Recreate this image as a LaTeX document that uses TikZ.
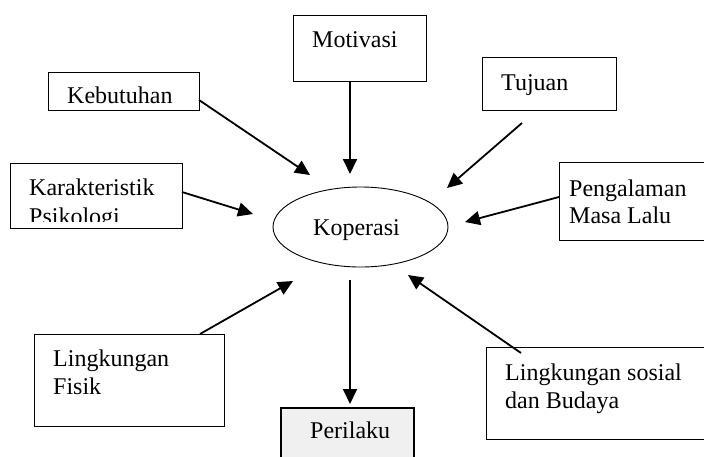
\documentclass[tikz,border=0pt]{standalone}
\usepackage{fontspec}
\setmainfont{Liberation Serif}
\usetikzlibrary{arrows.meta,shapes.geometric}
\begin{document}
\begin{tikzpicture}[x=1pt,y=-1pt,
  box/.style={draw,line width=0.9pt,inner sep=0pt},
  lbl/.style={anchor=base west,inner sep=0pt,font=\fontsize{24}{28}\selectfont},
  arr/.style={line width=1.8pt,-{Triangle[length=15pt,width=14pt]}}]
\clip (0,0) rectangle (704,456);
\fill[white] (0,0) rectangle (704,456);
% boxes
\node[box,minimum width=133pt,minimum height=66pt] (mot) at (359.5,48) {};
\node[box,minimum width=151pt,minimum height=38pt] (keb) at (123.5,91) {};
\node[box,minimum width=172pt,minimum height=65pt] (kar) at (96,195.5) {};
\node[box,minimum width=134pt,minimum height=53pt] (tuj) at (549,83.5) {};
\node[box,minimum width=160pt,minimum height=78pt] (pen) at (639,201) {};
\node[box,minimum width=190pt,minimum height=92pt] (fis) at (129,380) {};
\node[box,line width=1.1pt,fill=black!6,minimum width=133pt,minimum height=60pt] (per) at (347.5,438) {};
\node[box,minimum width=230pt,minimum height=92pt] (sos) at (601,393.5) {};
\node[draw,line width=0.9pt,ellipse,minimum width=175pt,minimum height=80pt,inner sep=0pt] (kop) at (360.5,227) {};
% texts
\node[lbl] (tmot) at (312,47) {Motivasi};
\node[lbl] (tkeb) at (67,103) {Kebutuhan};
\begin{scope}
\clip (11,164) rectangle (181,221);
\node[lbl] (tkar1) at (29,195) {Karakteristik};
\node[lbl] (tkar2) at (29,224) {Psikologi};
\end{scope}
\node[lbl] (ttuj) at (501,90) {Tujuan};
\node[lbl] (tpen1) at (569,196) {Pengalaman};
\node[lbl] (tpen2) at (569,223) {Masa Lalu};
\node[lbl] (tkop) at (313,235) {Koperasi};
\node[lbl] (tfis1) at (53,366) {Lingkungan};
\node[lbl] (tfis2) at (53,394) {Fisik};
\node[lbl] (tper) at (310,438) {Perilaku};
\node[lbl] (tsos1) at (505,380) {Lingkungan sosial};
\node[lbl] (tsos2) at (505,408) {dan Budaya};
% arrow endpoints
\coordinate (s1) at (199,100); \coordinate (e1) at (310,175);
\coordinate (s2) at (350,81);  \coordinate (e2) at (350,174);
\coordinate (s3) at (522,123); \coordinate (e3) at (447,188);
\coordinate (s4) at (559,197); \coordinate (e4) at (465,222);
\coordinate (s5) at (182,192); \coordinate (e5) at (253,214);
\coordinate (s6) at (200,334); \coordinate (e6) at (293,281);
\coordinate (s7) at (350,280); \coordinate (e7) at (350,404);
\coordinate (s8) at (521,353); \coordinate (e8) at (408,275);
\draw[arr] (s1) -- (e1);
\draw[arr] (s2) -- (e2);
\draw[arr] (s3) -- (e3);
\draw[arr] (s4) -- (e4);
\draw[arr] (s5) -- (e5);
\draw[arr] (s6) -- (e6);
\draw[arr] (s7) -- (e7);
\draw[arr] (s8) -- (e8);
\end{tikzpicture}
\end{document}
